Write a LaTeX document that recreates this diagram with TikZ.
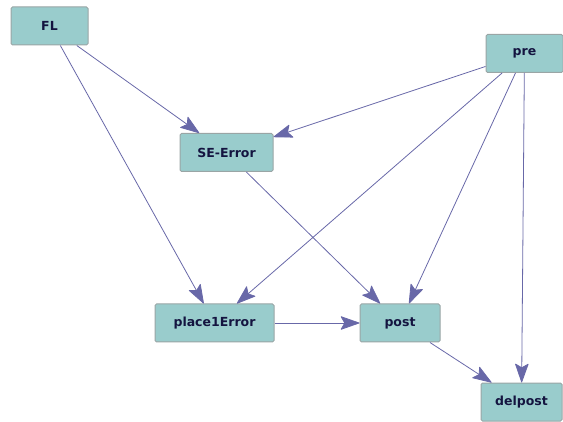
\documentclass[tikz,border=0pt]{standalone}
\usepackage{fontspec}
\setmainfont{DejaVu Sans}
\usetikzlibrary{arrows.meta}
\definecolor{boxfill}{HTML}{99CCCC}
\definecolor{boxline}{HTML}{9AA5A5}
\definecolor{edgecol}{HTML}{6868A8}
\definecolor{txtcol}{HTML}{141440}
\begin{document}
\begin{tikzpicture}[x=1pt,y=1pt,
  box/.style={draw=boxline,line width=1pt,fill=boxfill,rounded corners=1.5pt,
    minimum height=38pt,inner sep=0pt,font=\bfseries\fontsize{12.5}{14}\selectfont,text=txtcol},
  edge/.style={draw=edgecol,line width=0.8pt,-{Stealth[length=20pt,width=14pt,inset=4pt,round]}}]
\useasboundingbox (0,0) rectangle (563,421);
\node[box,minimum width=77pt] (FL) at (49.5,395) {FL};
\node[box,minimum width=77pt] (pre) at (524.5,367.5) {pre};
\node[box,minimum width=93pt] (se) at (226.5,268.5) {SE-Error};
\node[box,minimum width=119pt] (p1) at (214.5,98) {place1Error};
\node[box,minimum width=80pt] (post) at (400,98) {post};
\node[box,minimum width=81pt] (del) at (521.5,19) {delpost};
\draw[edge] (FL) -- (se);
\draw[edge] (FL) -- (p1);
\draw[edge] (pre) -- (se);
\draw[edge] (pre) -- (p1);
\draw[edge] (pre) -- (post);
\draw[edge] (pre) -- (del);
\draw[edge] (se) -- (post);
\draw[edge] (p1) -- (post);
\draw[edge] (post) -- (del);
\end{tikzpicture}
\end{document}
